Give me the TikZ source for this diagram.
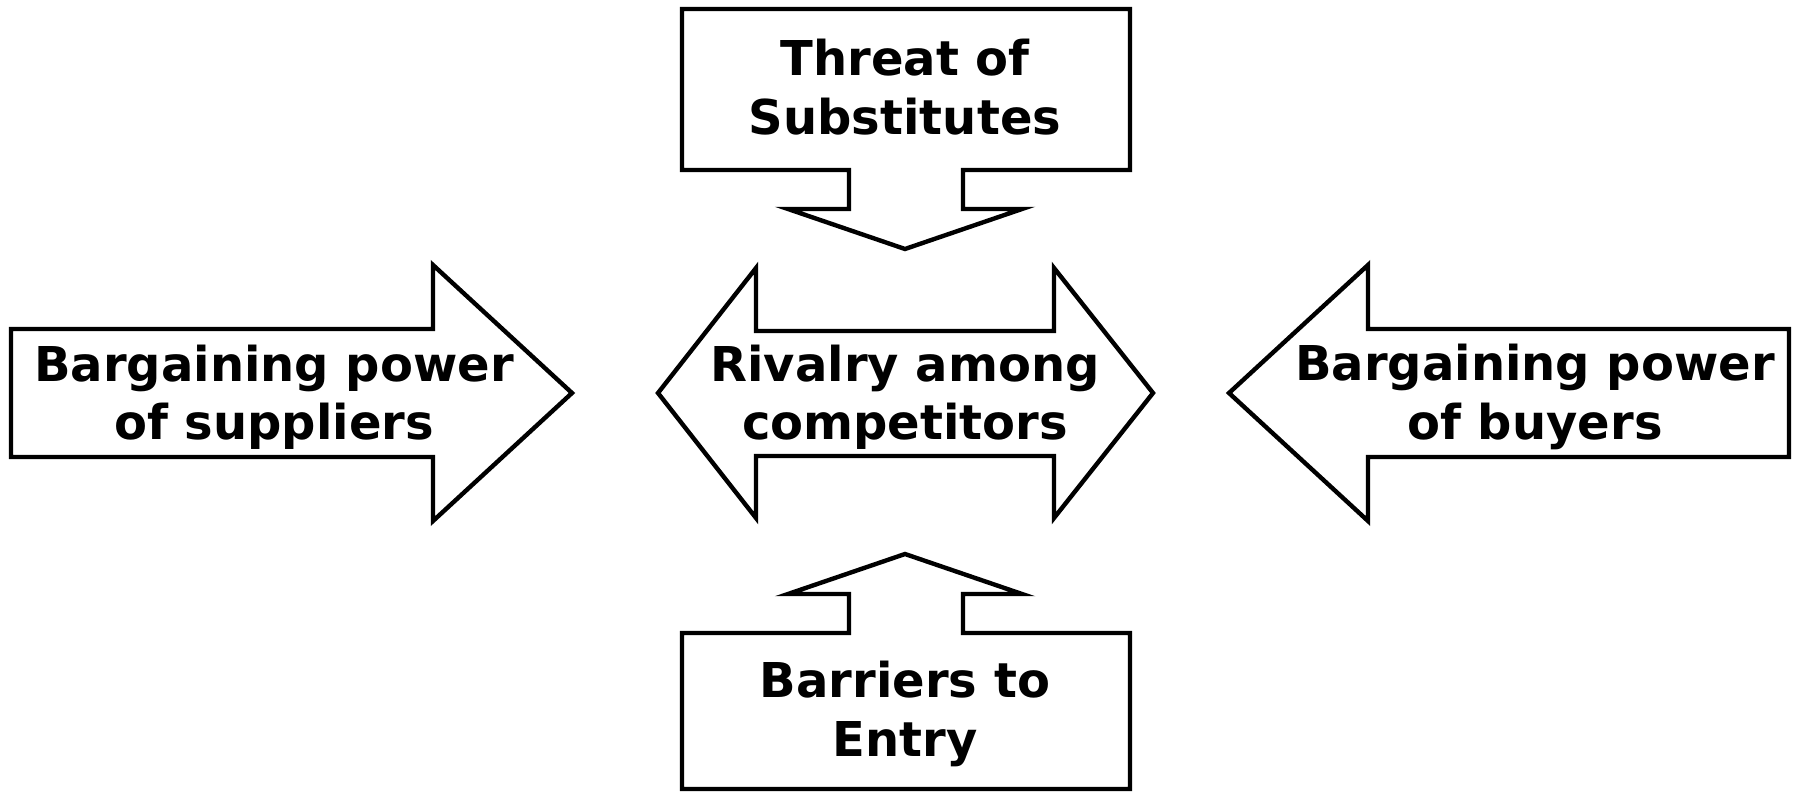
\documentclass[tikz,border=0pt]{standalone}
\usepackage{fontspec}
\setmainfont{DejaVu Sans}
\begin{document}
\begin{tikzpicture}[x=0.5pt,y=-0.5pt,
  arrowshape/.style={draw=black,line width=2.2pt,line join=miter,fill=white},
  lbl/.style={font=\bfseries\fontsize{24}{29.2}\selectfont,align=center,inner sep=0pt}]
\useasboundingbox (0,0) rectangle (1797,792);
% top callout
\draw[arrowshape] (682,9) -- (1130,9) -- (1130,170) -- (963,170) -- (963,209) -- (1022,209)
  -- (905,249) -- (788,209) -- (849,209) -- (849,170) -- (682,170) -- cycle;
% bottom callout
\draw[arrowshape] (682,789) -- (1130,789) -- (1130,633) -- (963,633) -- (963,594) -- (1022,594)
  -- (905,554) -- (788,594) -- (849,594) -- (849,633) -- (682,633) -- cycle;
% left arrow
\draw[arrowshape] (11,329) -- (433,329) -- (433,265) -- (572,393) -- (433,521) -- (433,457) -- (11,457) -- cycle;
% right arrow
\draw[arrowshape] (1789,329) -- (1368,329) -- (1368,265) -- (1229,393) -- (1368,521) -- (1368,457) -- (1789,457) -- cycle;
% double arrow
\draw[arrowshape] (658,393) -- (756,268) -- (756,331) -- (1054,331) -- (1054,268) -- (1153,393)
  -- (1054,518) -- (1054,456) -- (756,456) -- (756,518) -- cycle;
\node[lbl] (threat) at (905,87) {Threat of\\Substitutes};
\node[lbl] (suppliers) at (274,397) {Bargaining power\\of suppliers};
\node[lbl] (rivalry) at (905,397) {Rivalry among\\competitors};
\node[lbl] (buyers) at (1535,397) {Bargaining power\\of buyers};
\node[lbl] (entry) at (905,714) {Barriers to\\Entry};
\end{tikzpicture}
\end{document}
